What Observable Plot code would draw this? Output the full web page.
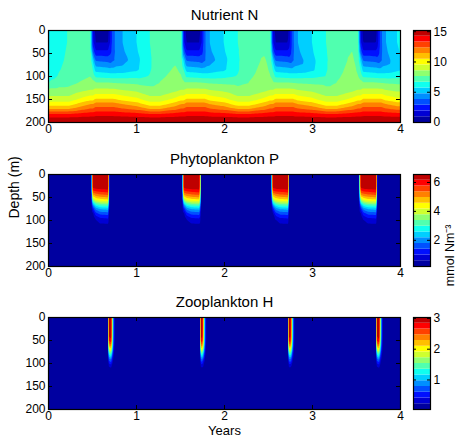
<!DOCTYPE html>
<html><head><meta charset="utf-8">
<script src="https://cdn.jsdelivr.net/npm/d3@7"></script>
<script src="https://cdn.jsdelivr.net/npm/@observablehq/plot@0.6"></script>
<style>
html,body{margin:0;padding:0;background:#fff;}
#chart{position:relative;width:455px;height:437px;overflow:hidden;}
#chart svg{position:absolute;left:0;}
</style></head><body><div id="chart"></div>
<script>
// ---------- axis ticks ----------
const yearTicks = [0, 1, 2, 3, 4];
const depthTicks = [0, 50, 100, 150, 200];

// ---------- Nutrient N : columns (years) x depths (m) ----------
const depthsN = [0, 25, 45, 65, 85, 100, 115, 130, 140, 150, 160, 170, 180, 190, 200];
const timesN = [0.000, 0.020, 0.120, 0.230, 0.380, 0.475, 0.505, 0.535, 0.675, 0.705, 0.735, 0.840, 1.000, 1.150,
  1.267, 1.442, 1.507, 1.537, 1.567, 1.715, 1.745, 1.775, 1.830, 1.990, 2.150,
  2.279, 2.454, 2.519, 2.549, 2.579, 2.718, 2.748, 2.778, 2.833, 2.993, 3.153,
  3.276, 3.451, 3.516, 3.546, 3.576, 3.720, 3.750, 3.780, 3.835, 3.960, 4.000];
const N = [
  [5.2,5.25,5.3,5.4,5.5,5.6,6.6, 7.9,8.4,9.0,10.0,11.3,13.1,14.4,15.2],
  [5.9,5.95,6.0,6.05,6.15,6.3,6.9, 7.9,8.4,9.0,10.0,11.3,13.1,14.4,15.2],
  [6.4,6.4,6.45,6.5,6.6,6.75,7.2, 7.9,8.4,9.0,10.0,11.3,13.1,14.4,15.2],
  [6.7,6.7,6.75,6.8,6.9,7.0,7.35, 7.9,8.4,9.0,10.0,11.3,13.1,14.4,15.2],
  [6.95,6.95,7.0,7.05,7.2,7.4,7.75, 8.35,9.05,9.8,10.9,12.0,13.4,14.5,15.2],
  [7.0,7.0,7.05,7.15,7.35,7.6,7.95, 8.6,9.4,10.2,11.4,12.4,13.55,14.55,15.2],
  [2.0,2.2,3.5,5.5,6.6,7.3,7.85, 8.6,9.4,10.2,11.4,12.4,13.55,14.55,15.2],
  [0.6,0.9,2.0,3.7,5.3,6.5,7.8, 8.8,9.7,10.6,11.8,12.7,13.7,14.6,15.2],
  [0.5,0.9,2.0,3.5,5.1,6.35,7.8, 8.8,9.7,10.6,11.8,12.7,13.7,14.6,15.2],
  [2.0,2.1,2.5,3.3,5.0,6.3,7.75, 8.8,9.7,10.6,11.8,12.7,13.7,14.6,15.2],
  [3.6,3.6,3.6,3.7,5.0,6.3,7.7, 8.8,9.7,10.6,11.8,12.7,13.7,14.6,15.2],
  [4.75,4.75,4.6,4.3,5.1,6.3,7.6, 8.6,9.4,10.2,11.4,12.4,13.55,14.55,15.2],
  [5.7,5.7,5.6,5.4,5.5,6.4,7.5, 8.35,9.05,9.8,10.9,12.0,13.4,14.5,15.2],
  [6.65,6.65,6.6,6.55,6.55,6.7,7.4, 7.9,8.4,9.0,10.0,11.3,13.1,14.4,15.2],
  [7.05,7.05,7.1,7.15,7.3,7.45,7.65, 7.9,8.4,9.0,10.0,11.3,13.1,14.4,15.2],
  [7.2,7.25,7.35,7.5,7.7,7.85,8.05, 8.35,9.05,9.8,10.9,12.0,13.4,14.5,15.2],
  [7.05,7.05,7.1,7.2,7.45,7.65,7.95, 8.6,9.4,10.2,11.4,12.4,13.55,14.55,15.2],
  [2.0,2.2,3.5,5.5,6.6,7.3,7.85, 8.6,9.4,10.2,11.4,12.4,13.55,14.55,15.2],
  [0.6,0.9,2.0,3.7,5.3,6.5,7.8, 8.8,9.7,10.6,11.8,12.7,13.7,14.6,15.2],
  [0.5,0.9,2.0,3.5,5.1,6.35,7.8, 8.8,9.7,10.6,11.8,12.7,13.7,14.6,15.2],
  [2.0,2.1,2.5,3.3,5.0,6.3,7.75, 8.8,9.7,10.6,11.8,12.7,13.7,14.6,15.2],
  [3.6,3.6,3.6,3.7,5.0,6.3,7.7, 8.8,9.7,10.6,11.8,12.7,13.7,14.6,15.2],
  [4.75,4.75,4.6,4.3,5.1,6.3,7.6, 8.6,9.4,10.2,11.4,12.4,13.55,14.55,15.2],
  [5.7,5.7,5.6,5.4,5.5,6.4,7.5, 8.35,9.05,9.8,10.9,12.0,13.4,14.5,15.2],
  [6.65,6.65,6.6,6.55,6.55,6.7,7.4, 7.9,8.4,9.0,10.0,11.3,13.1,14.4,15.2],
  [7.05,7.05,7.1,7.15,7.3,7.45,7.65, 7.9,8.4,9.0,10.0,11.3,13.1,14.4,15.2],
  [7.25,7.3,7.45,7.75,7.9,8.0,8.15, 8.35,9.05,9.8,10.9,12.0,13.4,14.5,15.2],
  [7.05,7.05,7.1,7.2,7.45,7.65,7.95, 8.6,9.4,10.2,11.4,12.4,13.55,14.55,15.2],
  [2.0,2.2,3.5,5.5,6.6,7.3,7.85, 8.6,9.4,10.2,11.4,12.4,13.55,14.55,15.2],
  [0.6,0.9,2.0,3.7,5.3,6.5,7.8, 8.8,9.7,10.6,11.8,12.7,13.7,14.6,15.2],
  [0.5,0.9,2.0,3.5,5.1,6.35,7.8, 8.8,9.7,10.6,11.8,12.7,13.7,14.6,15.2],
  [2.0,2.1,2.5,3.3,5.0,6.3,7.75, 8.8,9.7,10.6,11.8,12.7,13.7,14.6,15.2],
  [3.6,3.6,3.6,3.7,5.0,6.3,7.7, 8.8,9.7,10.6,11.8,12.7,13.7,14.6,15.2],
  [4.75,4.75,4.6,4.3,5.1,6.3,7.6, 8.6,9.4,10.2,11.4,12.4,13.55,14.55,15.2],
  [5.7,5.7,5.6,5.4,5.5,6.4,7.5, 8.35,9.05,9.8,10.9,12.0,13.4,14.5,15.2],
  [6.65,6.65,6.6,6.55,6.55,6.7,7.4, 7.9,8.4,9.0,10.0,11.3,13.1,14.4,15.2],
  [7.05,7.05,7.1,7.15,7.3,7.45,7.65, 7.9,8.4,9.0,10.0,11.3,13.1,14.4,15.2],
  [7.3,7.4,7.6,7.8,7.95,8.05,8.2, 8.35,9.05,9.8,10.9,12.0,13.4,14.5,15.2],
  [7.05,7.05,7.1,7.2,7.45,7.65,7.95, 8.6,9.4,10.2,11.4,12.4,13.55,14.55,15.2],
  [2.0,2.2,3.5,5.5,6.6,7.3,7.85, 8.6,9.4,10.2,11.4,12.4,13.55,14.55,15.2],
  [0.6,0.9,2.0,3.7,5.3,6.5,7.8, 8.8,9.7,10.6,11.8,12.7,13.7,14.6,15.2],
  [0.5,0.9,2.0,3.5,5.1,6.35,7.8, 8.8,9.7,10.6,11.8,12.7,13.7,14.6,15.2],
  [2.0,2.1,2.5,3.3,5.0,6.3,7.75, 8.8,9.7,10.6,11.8,12.7,13.7,14.6,15.2],
  [3.6,3.6,3.6,3.7,5.0,6.3,7.7, 8.8,9.7,10.6,11.8,12.7,13.7,14.6,15.2],
  [4.75,4.75,4.6,4.3,5.1,6.3,7.6, 8.6,9.4,10.2,11.4,12.4,13.55,14.55,15.2],
  [5.7,5.7,5.6,5.4,5.5,6.4,7.5, 8.35,9.05,9.8,10.9,12.0,13.4,14.5,15.2],
  [5.85,5.85,5.75,5.55,5.6,6.45,7.5, 8.35,9.05,9.8,10.9,12.0,13.4,14.5,15.2]
];

const depthsP = [0, 25, 32, 40, 48, 56, 62, 68, 75, 85, 95, 105, 115, 200];
const bloomStartP = [0.485, 1.517, 2.529, 3.526];
const bloomEndP = [0.690, 1.730, 2.733, 3.735];
const phaseP = [0, 0.1, 0.25, 0.5, 0.95, 1];
const backgroundP = 0.2;
const profileP = [
  [0.2,0.2,0.2,0.2,0.2,0.2,0.2,0.2,0.2,0.2,0.2,0.2,0.2,0.2],
  [6.45,6.35,6.0,5.3,4.5,3.5,2.6,1.8,1.1,0.5,0.25,0.2,0.2,0.2],
  [6.5,6.45,6.1,5.5,4.85,4.1,3.3,2.6,1.9,1.2,0.7,0.35,0.2,0.2],
  [6.5,6.45,6.15,5.6,5.0,4.3,3.6,2.9,2.2,1.5,0.95,0.65,0.2,0.2],
  [6.5,6.45,6.2,5.7,5.1,4.4,3.7,3.0,2.3,1.55,1.0,0.7,0.2,0.2],
  [0.2,0.2,0.2,0.2,0.2,0.2,0.2,0.2,0.2,0.2,0.2,0.2,0.2,0.2]
];

const depthsH = [0, 20, 40, 50, 60, 70, 80, 90, 100, 110, 120, 200];
const bloomStartH = [0.682, 1.722, 2.724, 3.728];
const offsetH = [0, 0.004, 0.028, 0.038, 0.05, 0.065, 0.08];
const backgroundH = 0.045;
const profileH = [
  [0.045,0.045,0.045,0.045,0.045,0.045,0.045,0.045,0.045,0.045,0.045,0.045],
  [2.9,2.9,2.85,2.7,2.3,1.8,1.2,0.75,0.4,0.15,0.045,0.045],
  [3.02,3.02,2.95,2.8,2.45,1.95,1.35,0.85,0.48,0.2,0.045,0.045],
  [2.1,2.1,2.05,1.95,1.7,1.35,0.9,0.55,0.3,0.12,0.045,0.045],
  [1.1,1.1,1.05,1.0,0.9,0.7,0.5,0.3,0.15,0.06,0.045,0.045],
  [0.4,0.4,0.4,0.36,0.3,0.22,0.14,0.08,0.05,0.045,0.045,0.045],
  [0.045,0.045,0.045,0.045,0.045,0.045,0.045,0.045,0.045,0.045,0.045,0.045]
];

// ---------- colour scales (16 filled levels, jet) ----------
const jet = ["#0000a0","#0000d4","#0010ff","#0050ff","#008fff","#00cfff","#10ffef","#50ffaf",
             "#8fff6f","#cfff2f","#ffff00","#ffbf00","#ff8000","#ff4000","#ff0000","#bf0000"];
const rangeN = [0, 15.2], rangeP = [0.19, 6.55], rangeH = [0.04, 3.03];
const ticksN = [0, 5, 10, 15], ticksP = [2, 4, 6], ticksH = [1, 2, 3];
const levels = ([lo, hi]) => d3.range(16).map(i => lo + i * (hi - lo) / 16);

// ---------- tables ----------
const rowsN = timesN.flatMap((t, i) => depthsN.map((z, j) => ({t, z, v: N[i][j]})));
const rowsP = [
  ...[0, 4].flatMap(t => depthsP.map(z => ({t, z, v: backgroundP}))),
  ...bloomStartP.flatMap((s, b) => phaseP.flatMap((f, p) =>
      depthsP.map((z, j) => ({t: s + f * (bloomEndP[b] - s), z, v: profileP[p][j]}))))
];
const rowsH = [
  ...[0, 4].flatMap(t => depthsH.map(z => ({t, z, v: backgroundH}))),
  ...bloomStartH.flatMap(s => offsetH.flatMap((o, p) =>
      depthsH.map((z, j) => ({t: s + o, z, v: profileH[p][j]}))))
];

const FONT = '"Liberation Sans", Arial, Helvetica, sans-serif';
const root = document.getElementById("chart");

function panel({rows, top, height, fTop, fBot, rng, title, extra = []}) {
  const thr = levels(rng);
  const fh = fBot - fTop, fw = 352;
  const svg = Plot.plot({
    width: 455, height,
    marginTop: fTop - top, marginBottom: top + height - fBot,
    marginLeft: 48, marginRight: 55,
    style: {fontFamily: FONT, fontSize: "12px", color: "black", background: "transparent", overflow: "visible"},
    x: {domain: [0, 4]},
    y: {domain: [0, 200], reverse: true},
    color: {type: "threshold", domain: thr.slice(1), range: jet},
    marks: [
      Plot.frame({fill: jet[0]}),
      Plot.contour(rows, {x: "t", y: "z", fill: "v", thresholds: thr, interpolate: "barycentric", pixelSize: 1, stroke: "none"}),
      Plot.tickX(yearTicks, {insetTop: fh - 4, stroke: "black"}),
      Plot.tickX(yearTicks, {insetBottom: fh - 4, stroke: "black"}),
      Plot.tickY(depthTicks, {insetRight: fw - 4, stroke: "black"}),
      Plot.tickY(depthTicks, {insetLeft: fw - 4, stroke: "black"}),
      Plot.frame({stroke: "black", strokeWidth: 1.2}),
      Plot.axisX(yearTicks, {tickSize: 0, tickPadding: 2, fontSize: 12, label: null}),
      Plot.axisY(depthTicks, {tickSize: 0, tickPadding: 3, fontSize: 12, label: null}),
      Plot.text([title], {frameAnchor: "top", dy: -11, lineAnchor: "bottom", fontSize: 15}),
      ...extra
    ]
  });
  svg.style.top = top + "px";
  root.appendChild(svg);
}

function colorbar({top, height, fTop, fBot, rng, ticks, extra = []}) {
  const thr = levels(rng);
  const bands = thr.map((v, i) => ({lo: v, hi: i < thr.length - 1 ? thr[i + 1] : rng[1]}));
  const svg = Plot.plot({
    width: 55, height,
    marginTop: fTop - top, marginBottom: top + height - fBot,
    marginLeft: 13, marginRight: 25,
    style: {fontFamily: FONT, fontSize: "12px", color: "black", background: "transparent", overflow: "visible"},
    x: {domain: [0, 1], axis: null},
    y: {domain: rng},
    color: {type: "threshold", domain: thr.slice(1), range: jet},
    marks: [
      Plot.rect(bands, {x1: 0, x2: 1, y1: "lo", y2: "hi", fill: "lo"}),
      Plot.tickY(ticks, {insetLeft: 14, stroke: "black"}),
      Plot.tickY(ticks, {insetRight: 14, stroke: "black"}),
      Plot.frame({stroke: "black", strokeWidth: 1.2}),
      Plot.axisY(ticks, {anchor: "right", tickSize: 0, tickPadding: 3, fontSize: 12, label: null}),
      ...extra
    ]
  });
  svg.style.top = top + "px";
  svg.style.left = "400px";
  root.appendChild(svg);
}

panel({rows: rowsN, top: 0, height: 145, fTop: 30, fBot: 122, rng: rangeN, title: "Nutrient N"});
panel({rows: rowsP, top: 145, height: 145, fTop: 174, fBot: 266, rng: rangeP, title: "Phytoplankton P",
  extra: [Plot.text(["Depth (m)"], {frameAnchor: "left", rotate: -90, dx: -34, dy: -2, fontSize: 14})]});
panel({rows: rowsH, top: 290, height: 147, fTop: 317, fBot: 409, rng: rangeH, title: "Zooplankton H",
  extra: [Plot.text(["Years"], {frameAnchor: "bottom", dy: 25, lineAnchor: "bottom", fontSize: 13})]});

colorbar({top: 0, height: 145, fTop: 30, fBot: 122, rng: rangeN, ticks: ticksN});
colorbar({top: 145, height: 145, fTop: 174, fBot: 266, rng: rangeP, ticks: ticksP,
  extra: [Plot.text(["mmol Nm\u207B\u00B3"], {frameAnchor: "right", rotate: -90, dx: 19, dy: 4, fontSize: 12.5})]});
colorbar({top: 290, height: 147, fTop: 317, fBot: 409, rng: rangeH, ticks: ticksH});
</script></body></html>
